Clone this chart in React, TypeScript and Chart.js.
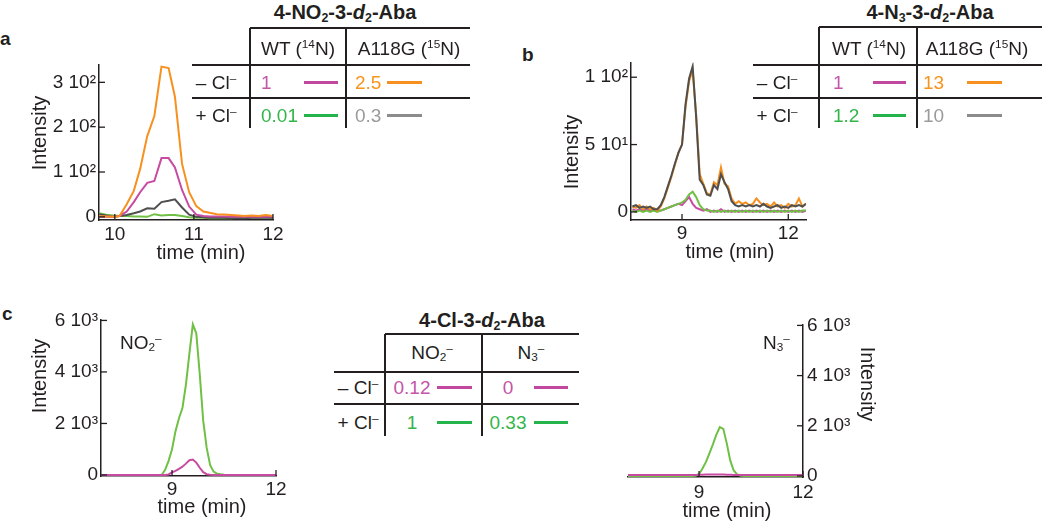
import React, { useEffect, useRef } from "react";
import { Chart, registerables } from "chart.js";

Chart.register(...registerables);

const FONT = "'Liberation Sans', Arial, Helvetica, sans-serif";
const INK = "#231f20";

// ---------- colours ----------
const ORANGE = "#f7901e";
const MAGENTA = "#c84ba2";
const DARKGRAY = "#4f4f4f";
const GREEN = "#6fc045";
const SW_MAGENTA = "#c2479e";
const SW_GREEN = "#25b34b";
const SW_ORANGE = "#f7901e";
const SW_GRAY = "#8c8c8c";
const TX_MAGENTA = "#c455a8";
const TX_GREEN = "#33b54a";
const TX_ORANGE = "#f7941d";
const TX_GRAY = "#9a9a9a";

// ---------- panel a : 4-NO2-3-d2-Aba ----------
const aTime = [9.8, 9.89, 9.98, 10.06, 10.15, 10.24, 10.32, 10.41, 10.5, 10.59, 10.68, 10.76, 10.85, 10.94, 11.03, 11.12, 11.2, 11.29, 11.38, 11.47, 11.56, 11.64, 11.73, 11.82, 11.91, 12.0];
const aWtMinusCl = [0, 1, 0, 2, 12, 33, 55, 76, 80, 131, 131, 110, 60, 23, 5, 2, 1, 1, 1, 0, 0, 1, 0, 1, 0, 1];
const aMutMinusCl = [2, 1, 0, 2, 28, 58, 107, 180, 225, 335, 332, 268, 118, 55, 24, 12, 9, 6, 5, 4, 3, 2, 3, 2, 4, 2];
const aMutPlusCl = [6, 3, 0, 2, 4, 8, 12, 19, 18, 33, 36, 39, 21, 5, 0, -1, -2, -2, -2, -3, -3, -3, -2, -2, -2, -2];
const aWtPlusCl = [8, 5, 3, 2, 2, 1, 1, 0, 6, 3, 4, 4, 2, -1, -2, -2, -3, -3, -3, -3, -2, -2, -2, -2, -1, -2];
const aXTicks = [10, 11, 12];
const aYTicks = [0, 100, 200, 300];
const aYLabels = ["0", "1 10²", "2 10²", "3 10²"];

// ---------- panel b : 4-N3-3-d2-Aba ----------
const bTime = [7.6, 7.7, 7.8, 7.9, 8.0, 8.1, 8.2, 8.3, 8.4, 8.5, 8.6, 8.7, 8.8, 8.9, 9.0, 9.1, 9.2, 9.3, 9.4, 9.5, 9.6, 9.7, 9.8, 9.9, 10.0, 10.1, 10.2, 10.3, 10.4, 10.5, 10.6, 10.7, 10.8, 10.9, 11.0, 11.1, 11.2, 11.3, 11.4, 11.5, 11.6, 11.7, 11.8, 11.9, 12.0, 12.1, 12.2, 12.3, 12.4, 12.5];
const bMutMinusCl = [4, 3, 5, 2, 4, 2, 3, 1, 4, 10, 18, 26, 35, 44, 50, 78, 97, 105, 72, 28, 21, 14, 13, 22, 20, 33, 21, 19, 10, 6, 8, 6, 7, 5, 6, 10, 7, 5, 6, 4, 7, 4, 5, 3, 6, 4, 5, 10, 4, 6];
const bMutPlusCl = [4, 5, 3, 4, 3, 4, 2, 2, 5, 11, 19, 27, 36, 44, 50, 80, 99, 108, 70, 24, 20, 13, 12, 20, 17, 28, 22, 17, 8, 5, 4, 5, 4, 5, 4, 5, 4, 6, 4, 3, 4, 5, 3, 4, 3, 5, 4, 5, 4, 6];
const bWtMinusCl = [2, 1, 2, 1, 2, 1, 2, 1, 1, 2, 3, 4, 5, 6, 5, 8, 11, 6, 3, 2, 1, 2, 0, 1, 0, 2, 0, 1, 0, 1, 0, 1, 0, 1, 0, 1, 0, 1, 0, 1, 0, 1, 0, 1, 0, 1, 0, 1, 0, 1];
const bWtPlusCl = [1, 0, 1, 0, 1, 0, 1, 0, 1, 2, 3, 4, 5, 6, 7, 9, 13, 15, 11, 5, 2, 1, 1, 0, 1, 0, 1, 0, 1, 0, 1, 0, 1, 0, 1, 0, 1, 0, 1, 0, 1, 0, 1, 0, 1, 0, 1, 0, 1, 1];
const bXTicks = [9, 12];
const bYTicks = [0, 50, 100];
const bYLabels = ["0", "5 10¹", "1 10²"];

// ---------- panel c : 4-Cl-3-d2-Aba ----------
const cTime = [6.95, 8.0, 8.7, 8.8, 8.9, 9.0, 9.1, 9.2, 9.3, 9.4, 9.5, 9.6, 9.7, 9.8, 9.9, 10.0, 10.1, 10.2, 10.3, 10.5, 11.0, 12.0];
const cNO2MinusCl = [0, 0, 0, 0, 20, 100, 160, 240, 320, 440, 570, 600, 480, 280, 110, 30, 5, 0, 0, 0, 0, 0];
const cNO2PlusCl = [0, 0, 0, 200, 550, 1000, 1700, 2200, 2600, 3500, 4700, 5850, 5500, 3900, 2100, 1050, 380, 130, 50, 10, 0, 0];
const cN3MinusCl = [40, 40, 40, 40, 40, 45, 50, 55, 60, 60, 60, 60, 55, 50, 45, 40, 40, 40, 40, 40, 40, 40];
const cN3PlusCl = [0, 0, 0, 0, 10, 70, 300, 560, 900, 1260, 1650, 1950, 1880, 1300, 620, 220, 60, 10, 0, 0, 0, 0];
const cXTicks = [9, 12];
const cYTicks = [0, 2000, 4000, 6000];
const cYLabels = ["0", "2 10³", "4 10³", "6 10³"];

// ---------- legend tables ----------
const tableAValues = [["1", "2.5"], ["0.01", "0.3"]];
const tableBValues = [["1", "13"], ["1.2", "10"]];
const tableCValues = [["0.12", "0"], ["1", "0.33"]];
const rowLabels = ["– Cl", "+ Cl"];

// ---------- chart plumbing ----------
type Series = { x: number[]; y: number[]; color: string; width?: number };
type Title = { text: string; x: number; y: number; rot?: number };
type PlotSpec = {
  box: { left: number; top: number; width: number; height: number };
  padding: { top: number; right: number; bottom: number; left: number };
  yWidth: number;
  xHeight: number;
  yPos: "left" | "right";
  xMin: number;
  xMax: number;
  yMin: number;
  yMax: number;
  xTicks: number[];
  yTicks: number[];
  yLabels: string[];
  xPad: number;
  yPad: number;
  series: Series[];
  titles: Title[];
};

const inwardTicks = {
  id: "inwardTicks",
  afterDatasetsDraw(chart: any) {
    const { ctx, chartArea } = chart;
    ctx.save();
    ctx.strokeStyle = INK;
    ctx.lineWidth = 1.3;
    Object.values(chart.scales).forEach((s: any) => {
      s.ticks.forEach((t: any) => {
        const p = s.getPixelForValue(t.value);
        ctx.beginPath();
        if (s.isHorizontal()) {
          ctx.moveTo(p, chartArea.bottom);
          ctx.lineTo(p, chartArea.bottom - 6);
        } else if (s.position === "right") {
          ctx.moveTo(chartArea.right, p);
          ctx.lineTo(chartArea.right - 6, p);
        } else {
          ctx.moveTo(chartArea.left, p);
          ctx.lineTo(chartArea.left + 6, p);
        }
        ctx.stroke();
      });
    });
    ctx.restore();
  },
};

function titlesPlugin(items: Title[]) {
  return {
    id: "axisTitles",
    afterDraw(chart: any) {
      const ctx = chart.ctx;
      items.forEach((t) => {
        ctx.save();
        ctx.translate(t.x, t.y);
        ctx.rotate(t.rot || 0);
        ctx.font = `20px ${FONT}`;
        ctx.fillStyle = INK;
        ctx.textAlign = "center";
        ctx.textBaseline = "middle";
        ctx.fillText(t.text, 0, 0);
        ctx.restore();
      });
    },
  };
}

function Plot({ spec }: { spec: PlotSpec }) {
  const ref = useRef<HTMLCanvasElement>(null);
  useEffect(() => {
    const tickFont = { family: FONT, size: 19 };
    const titles = spec.titles.map((t) => ({ ...t, x: t.x - spec.box.left, y: t.y - spec.box.top }));
    const chart = new Chart(ref.current as HTMLCanvasElement, {
      type: "line",
      data: {
        datasets: spec.series.map((s) => ({
          data: s.x.map((x, i) => ({ x, y: s.y[i] })),
          borderColor: s.color,
          borderWidth: s.width ?? 2,
          pointRadius: 0,
          tension: 0,
          fill: false,
        })),
      },
      options: {
        animation: false,
        responsive: false,
        devicePixelRatio: 1,
        events: [],
        layout: { padding: spec.padding },
        plugins: { legend: { display: false }, tooltip: { enabled: false } },
        scales: {
          x: {
            type: "linear",
            min: spec.xMin,
            max: spec.xMax,
            afterBuildTicks: (s: any) => {
              s.ticks = spec.xTicks.map((v) => ({ value: v }));
            },
            afterFit: (s: any) => {
              s.height = spec.xHeight;
            },
            grid: { display: false, drawTicks: false },
            border: { display: true, color: INK, width: 1.5 },
            ticks: {
              font: tickFont,
              color: INK,
              padding: spec.xPad,
              maxRotation: 0,
              autoSkip: false,
              callback: (v: any) => String(v),
            },
          },
          y: {
            type: "linear",
            position: spec.yPos,
            min: spec.yMin,
            max: spec.yMax,
            afterBuildTicks: (s: any) => {
              s.ticks = spec.yTicks.map((v) => ({ value: v }));
            },
            afterFit: (s: any) => {
              s.width = spec.yWidth;
            },
            grid: { display: false, drawTicks: false },
            border: { display: true, color: INK, width: 1.5 },
            ticks: {
              font: tickFont,
              color: INK,
              padding: spec.yPad,
              autoSkip: false,
              callback: (v: any) => spec.yLabels[spec.yTicks.indexOf(v)] ?? "",
            },
          },
        },
      } as any,
      plugins: [inwardTicks, titlesPlugin(titles)],
    });
    return () => chart.destroy();
  }, []);
  const { left, top, width, height } = spec.box;
  return (
    <canvas
      ref={ref}
      width={width}
      height={height}
      style={{ position: "absolute", left, top, width, height }}
    />
  );
}

// ---------- HTML text / rules for the legend tables ----------
const supStyle: React.CSSProperties = { fontSize: "0.62em", verticalAlign: "0.55em", lineHeight: 0 };
const subStyle: React.CSSProperties = { fontSize: "0.62em", verticalAlign: "-0.22em", lineHeight: 0 };
const Sup = ({ children }: { children: React.ReactNode }) => <span style={supStyle}>{children}</span>;
const Sub = ({ children }: { children: React.ReactNode }) => <span style={subStyle}>{children}</span>;

function Txt({
  x,
  y,
  align = "center",
  size = 19,
  bold = false,
  color = INK,
  children,
}: {
  x: number;
  y: number;
  align?: "left" | "center" | "right";
  size?: number;
  bold?: boolean;
  color?: string;
  children: React.ReactNode;
}) {
  const tx = align === "center" ? "-50%" : align === "right" ? "-100%" : "0";
  return (
    <div
      style={{
        position: "absolute",
        left: x,
        top: y,
        transform: `translate(${tx}, -50%)`,
        fontSize: size,
        lineHeight: 1,
        fontWeight: bold ? 700 : 400,
        color,
        whiteSpace: "nowrap",
      }}
    >
      {children}
    </div>
  );
}

function HRule({ x1, x2, y, w = 2, color = INK }: { x1: number; x2: number; y: number; w?: number; color?: string }) {
  return <div style={{ position: "absolute", left: x1, top: y - w / 2, width: x2 - x1, height: w, background: color }} />;
}
function VRule({ x, y1, y2, w = 2, color = INK }: { x: number; y1: number; y2: number; w?: number; color?: string }) {
  return <div style={{ position: "absolute", left: x - w / 2, top: y1, width: w, height: y2 - y1, background: color }} />;
}

type TableGeom = {
  titleX: number;
  titleY: number;
  topY: number;
  vXs: number[];
  vBottom: number;
  hYs: number[];
  hLeft: number;
  hRight: number;
  headerY: number;
  headerXs: number[];
  rowYs: number[];
  rowLabelX: number;
  valueXs: number[];
  valueAlign: "left" | "center";
  swX1: number[];
  swX2: number[];
};

function LegendTable({
  g,
  title,
  headers,
  values,
  textColors,
  lineColors,
}: {
  g: TableGeom;
  title: React.ReactNode;
  headers: React.ReactNode[];
  values: string[][];
  textColors: string[][];
  lineColors: string[][];
}) {
  return (
    <>
      <Txt x={g.titleX} y={g.titleY} bold size={20}>
        {title}
      </Txt>
      <HRule x1={g.vXs[0]} x2={g.hRight} y={g.topY} />
      {g.vXs.map((x, i) => (
        <VRule key={"v" + i} x={x} y1={g.topY} y2={g.vBottom} />
      ))}
      {g.hYs.map((y, i) => (
        <HRule key={"h" + i} x1={g.hLeft} x2={g.hRight} y={y} />
      ))}
      {headers.map((h, i) => (
        <Txt key={"hd" + i} x={g.headerXs[i]} y={g.headerY}>
          {h}
        </Txt>
      ))}
      {rowLabels.map((r, i) => (
        <Txt key={"rl" + i} x={g.rowLabelX} y={g.rowYs[i]}>
          {r}
          <Sup>–</Sup>
        </Txt>
      ))}
      {values.map((row, r) =>
        row.map((v, c) => (
          <React.Fragment key={`c${r}${c}`}>
            <Txt x={g.valueXs[c]} y={g.rowYs[r]} align={g.valueAlign} color={textColors[r][c]}>
              {v}
            </Txt>
            <HRule x1={g.swX1[c]} x2={g.swX2[c]} y={g.rowYs[r]} w={3} color={lineColors[r][c]} />
          </React.Fragment>
        ))
      )}
    </>
  );
}

// ---------- panel specs ----------
const plotA: PlotSpec = {
  box: { left: 0, top: 50, width: 295, height: 217 },
  padding: { top: 14, right: 22, bottom: 0, left: 0 },
  yWidth: 99,
  xHeight: 47,
  yPos: "left",
  xMin: 9.8,
  xMax: 12,
  yMin: -7,
  yMax: 340,
  xTicks: aXTicks,
  yTicks: aYTicks,
  yLabels: aYLabels,
  xPad: 3,
  yPad: 3,
  series: [
    { x: aTime, y: aMutMinusCl, color: ORANGE },
    { x: aTime, y: aWtMinusCl, color: MAGENTA },
    { x: aTime, y: aMutPlusCl, color: DARKGRAY },
    { x: aTime, y: aWtPlusCl, color: GREEN },
  ],
  titles: [
    { text: "time (min)", x: 201, y: 253 },
    { text: "Intensity", x: 40, y: 133, rot: -Math.PI / 2 },
  ],
};

const plotB: PlotSpec = {
  box: { left: 540, top: 48, width: 285, height: 219 },
  padding: { top: 14, right: 19, bottom: 0, left: 0 },
  yWidth: 91,
  xHeight: 47,
  yPos: "left",
  xMin: 7.56,
  xMax: 12.5,
  yMin: -6,
  yMax: 111,
  xTicks: bXTicks,
  yTicks: bYTicks,
  yLabels: bYLabels,
  xPad: 2,
  yPad: 3,
  series: [
    { x: bTime, y: bMutPlusCl, color: DARKGRAY },
    { x: bTime, y: bMutMinusCl, color: ORANGE },
    { x: bTime, y: bWtPlusCl, color: GREEN },
    { x: bTime, y: bWtMinusCl, color: MAGENTA },
  ],
  titles: [
    { text: "time (min)", x: 730, y: 252 },
    { text: "Intensity", x: 572, y: 152, rot: -Math.PI / 2 },
  ],
};

const plotC1: PlotSpec = {
  box: { left: 0, top: 305, width: 295, height: 216 },
  padding: { top: 14, right: 19, bottom: 0, left: 0 },
  yWidth: 101,
  xHeight: 45,
  yPos: "left",
  xMin: 6.95,
  xMax: 12,
  yMin: -40,
  yMax: 6040,
  xTicks: cXTicks,
  yTicks: cYTicks,
  yLabels: cYLabels,
  xPad: 2,
  yPad: 3,
  series: [
    { x: cTime, y: cNO2MinusCl, color: MAGENTA },
    { x: cTime, y: cNO2PlusCl, color: GREEN },
  ],
  titles: [
    { text: "time (min)", x: 202, y: 507 },
    { text: "Intensity", x: 40, y: 376, rot: -Math.PI / 2 },
  ],
};

const plotC2: PlotSpec = {
  box: { left: 610, top: 309, width: 290, height: 212 },
  padding: { top: 14, right: 0, bottom: 0, left: 18 },
  yWidth: 97,
  xHeight: 44,
  yPos: "right",
  xMin: 6.95,
  xMax: 12,
  yMin: -40,
  yMax: 6040,
  xTicks: cXTicks,
  yTicks: cYTicks,
  yLabels: cYLabels,
  xPad: 4,
  yPad: 4,
  series: [
    { x: cTime, y: cN3MinusCl, color: MAGENTA },
    { x: cTime, y: cN3PlusCl, color: GREEN },
  ],
  titles: [
    { text: "time (min)", x: 727, y: 511 },
    { text: "Intensity", x: 867, y: 384, rot: Math.PI / 2 },
  ],
};

const geomA: TableGeom = {
  titleX: 345, titleY: 12, topY: 28, vXs: [250, 346], vBottom: 128, hYs: [65, 98], hLeft: 192, hRight: 470,
  headerY: 48, headerXs: [298, 409], rowYs: [82, 115], rowLabelX: 216, valueXs: [261, 355], valueAlign: "left",
  swX1: [304, 387], swX2: [338, 422],
};
const geomB: TableGeom = {
  titleX: 930, titleY: 12, topY: 27, vXs: [819, 917], vBottom: 128, hYs: [65, 98], hLeft: 753, hRight: 1042,
  headerY: 48, headerXs: [869, 977], rowYs: [82, 115], rowLabelX: 777, valueXs: [833, 923], valueAlign: "left",
  swX1: [873, 967], swX2: [906, 1002],
};
const geomC: TableGeom = {
  titleX: 482, titleY: 320, topY: 334, vXs: [385, 482], vBottom: 436, hYs: [372, 404], hLeft: 334, hRight: 579,
  headerY: 352, headerXs: [432, 531], rowYs: [387, 422], rowLabelX: 358, valueXs: [412, 508], valueAlign: "center",
  swX1: [437, 534], swX2: [472, 568],
};

const wtHeader = (
  <>
    WT (<Sup>14</Sup>N)
  </>
);
const mutHeader = (
  <>
    A118G (<Sup>15</Sup>N)
  </>
);

export default function App() {
  return (
    <div
      style={{
        position: "absolute",
        left: 0,
        top: 0,
        width: 1050,
        height: 521,
        overflow: "hidden",
        background: "#ffffff",
        fontFamily: FONT,
        color: INK,
      }}
    >
      <Txt x={0} y={38} align="left" bold size={19}>a</Txt>
      <Txt x={522} y={54} align="left" bold size={19}>b</Txt>
      <Txt x={2} y={313} align="left" bold size={19}>c</Txt>

      <Plot spec={plotA} />
      <Plot spec={plotB} />
      <Plot spec={plotC1} />
      <Plot spec={plotC2} />

      <LegendTable
        g={geomA}
        title={<>4-NO<Sub>2</Sub>-3-<i>d</i><Sub>2</Sub>-Aba</>}
        headers={[wtHeader, mutHeader]}
        values={tableAValues}
        textColors={[[TX_MAGENTA, TX_ORANGE], [TX_GREEN, TX_GRAY]]}
        lineColors={[[SW_MAGENTA, SW_ORANGE], [SW_GREEN, SW_GRAY]]}
      />
      <LegendTable
        g={geomB}
        title={<>4-N<Sub>3</Sub>-3-<i>d</i><Sub>2</Sub>-Aba</>}
        headers={[wtHeader, mutHeader]}
        values={tableBValues}
        textColors={[[TX_MAGENTA, TX_ORANGE], [TX_GREEN, TX_GRAY]]}
        lineColors={[[SW_MAGENTA, SW_ORANGE], [SW_GREEN, SW_GRAY]]}
      />
      <LegendTable
        g={geomC}
        title={<>4-Cl-3-<i>d</i><Sub>2</Sub>-Aba</>}
        headers={[
          <>NO<Sub>2</Sub><Sup>–</Sup></>,
          <>N<Sub>3</Sub><Sup>–</Sup></>,
        ]}
        values={tableCValues}
        textColors={[[TX_MAGENTA, TX_MAGENTA], [TX_GREEN, TX_GREEN]]}
        lineColors={[[SW_MAGENTA, SW_MAGENTA], [SW_GREEN, SW_GREEN]]}
      />

      <Txt x={120} y={342} align="left">
        NO<Sub>2</Sub><Sup>–</Sup>
      </Txt>
      <Txt x={763} y={342} align="left">
        N<Sub>3</Sub><Sup>–</Sup>
      </Txt>
    </div>
  );
}
